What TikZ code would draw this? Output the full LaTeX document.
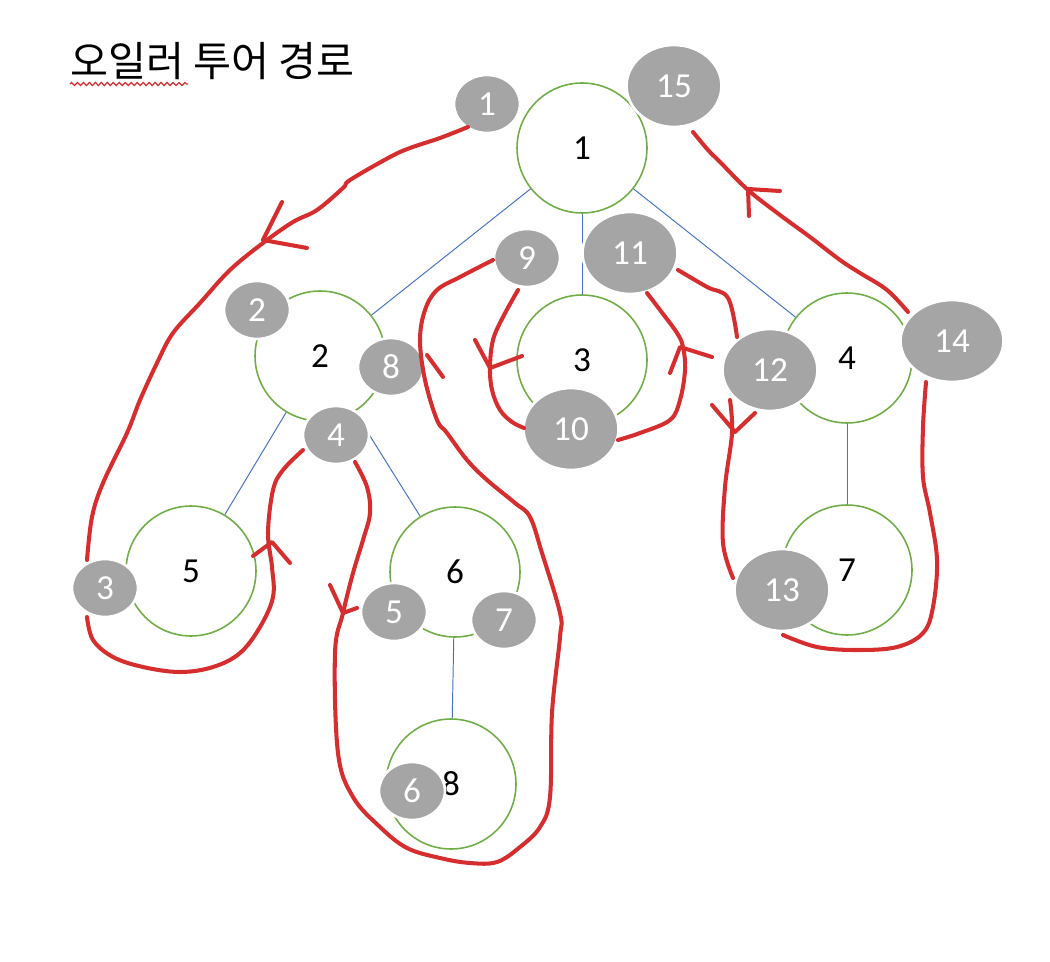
\documentclass[tikz,border=0pt]{standalone}
\usepackage{fontspec}
\setmainfont{Carlito}
\newfontfamily\hangul{Noto Sans CJK KR}
\usetikzlibrary{shapes.geometric, decorations.pathmorphing}

\definecolor{vgreen}{RGB}{112,173,71}
\definecolor{eblue}{RGB}{68,114,196}
\definecolor{bgray}{RGB}{165,165,165}
\definecolor{pen}{RGB}{214,46,46}

\begin{document}
\begin{tikzpicture}[x=0.02cm, y=-0.02cm,
    vertex/.style={circle, draw=vgreen, line width=0.9pt, minimum size=2.6cm, inner sep=0pt, font=\fontsize{20}{22}\selectfont},
    badge/.style={ellipse, fill=bgray, draw=white, line width=1.5pt, minimum width=1.32cm, minimum height=1.16cm, inner sep=0pt, text=white, font=\fontsize{20}{22}\selectfont},
    bigbadge/.style={badge, minimum width=1.9cm, minimum height=1.64cm},
    edge/.style={draw=eblue, line width=0.55pt},
    tour/.style={draw=pen, line width=2.3pt, line cap=round, line join=round}
]
\useasboundingbox (0,0) rectangle (1050,962);

% Title
\node[anchor=west, font=\hangul\fontsize{23.5}{28}\selectfont] (title) at (64,61) {오일러 투어 경로};
\draw[pen, line width=0.7pt, decorate, decoration={zigzag, segment length=3.4pt, amplitude=0.9pt}] (70,84) -- (188,84);

% Tree
\node[vertex] (n1) at (582,148) {1};
\node[vertex] (n2) at (320,356) {2};
\node[vertex] (n3) at (582,360) {3};
\node[vertex] (n4) at (847,358) {4};
\node[vertex] (n5) at (191,571) {5};
\node[vertex] (n6) at (455,572) {6};
\node[vertex] (n7) at (847,570) {7};
\node[vertex] (n8) at (451,784) {8};

\draw[edge] (n1) -- (n2);
\draw[edge] (n1) -- (n3);
\draw[edge] (n1) -- (n4);
\draw[edge] (n2) -- (n5);
\draw[edge] (n2) -- (n6);
\draw[edge] (n4) -- (n7);
\draw[edge] (n6) -- (n8);

% Visit order
\node[badge] (b1) at (487,104) {1};
\node[badge] (b2) at (257,310) {2};
\node[badge] (b3) at (105,588) {3};
\node[badge] (b4) at (336,435) {4};
\node[badge] (b5) at (394,612) {5};
\node[badge] (b6) at (412,791) {6};
\node[badge] (b7) at (504,620) {7};
\node[badge] (b8) at (391,367) {8};
\node[badge] (b9) at (527,258) {9};
\node[bigbadge] (b10) at (571,429) {10};
\node[bigbadge] (b11) at (630,253) {11};
\node[bigbadge] (b12) at (770,370) {12};
\node[bigbadge] (b13) at (782,590) {13};
\node[bigbadge, minimum width=2.06cm] (b14) at (952,341) {14};
\node[bigbadge] (b15) at (674,86) {15};

% Tour
\draw[tour] plot[smooth, tension=0.6] coordinates {(468,127) (440,138) (410,148) (390,157) (350,180) (343,188) (317,210) (293,222) (263,243) (230,270) (200,303) (173,333) (157,363) (140,400) (127,433) (103,483) (92,517) (87,560)};
\draw[tour] plot[smooth, tension=0.6] coordinates {(87,617) (93,640) (113,657) (143,667) (180,672) (213,667) (240,653) (260,627) (273,597) (272,567) (268,533) (273,490) (283,470) (303,450)};
\draw[tour] plot[smooth, tension=0.6] coordinates {(355,462) (367,487) (370,513) (363,540) (353,573) (343,613) (335,653) (338,753) (353,797) (380,827) (407,848) (440,858) (470,863) (497,862) (520,847) (540,827) (550,797) (552,713) (560,637) (560,613) (542,553) (530,517) (515,503) (487,480) (467,460) (447,433) (437,420) (425,380) (420,340) (425,310) (437,290) (460,277) (493,260)};
\draw[tour] plot[smooth, tension=0.6] coordinates {(518,290) (503,317) (493,340) (490,367) (492,390) (500,410) (512,422) (524,428)};
\draw[tour] plot[smooth, tension=0.6] coordinates {(618,440) (640,433) (670,420) (680,400) (685,370) (683,347) (677,333) (660,310) (647,293)};
\draw[tour] plot[smooth, tension=0.6] coordinates {(678,270) (707,287) (728,298) (737,337)};
\draw[tour] plot[smooth, tension=0.6] coordinates {(730,400) (732,433) (725,487) (723,543) (733,578)};
\draw[tour] plot[smooth, tension=0.6] coordinates {(783,635) (817,647) (857,650) (897,647) (923,633) (933,607) (937,560) (930,513) (923,477) (923,427) (926,382)};
\draw[tour] plot[smooth, tension=0.6] coordinates {(908,312) (887,290) (860,273) (840,260) (810,237) (780,215) (748,190) (720,162) (708,150) (693,132)};

% Arrow marks
\draw[tour] (282,202) -- (263,240) -- (307,248);
\draw[tour] (253,556) -- (272,542) -- (290,563);
\draw[tour] (330,585) -- (343,613) -- (357,608);
\draw[tour] (427,355) -- (443,377);
\draw[tour] (475,340) -- (490,368) -- (522,356);
\draw[tour] (670,373) -- (680,347) -- (712,357);
\draw[tour] (712,405) -- (735,432) -- (755,413);
\draw[tour] (749,216) -- (748,189) -- (780,191);

\end{tikzpicture}
\end{document}
